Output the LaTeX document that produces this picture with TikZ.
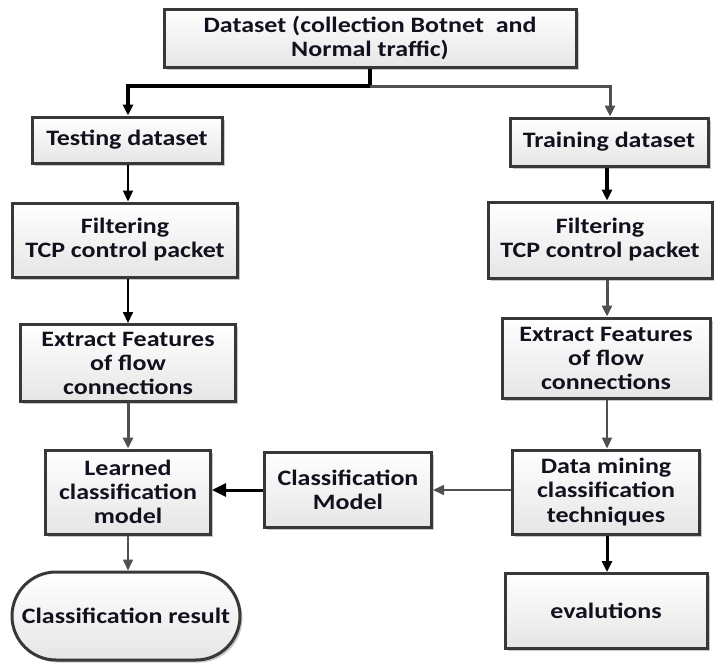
\documentclass[tikz,border=0pt]{standalone}
\usepackage{fontspec}
\setmainfont{Carlito}[FakeStretch=1.18]
\usetikzlibrary{shadows,arrows.meta,shapes.misc}
\definecolor{boxedge}{HTML}{383838}
\definecolor{txt}{HTML}{12121E}
\definecolor{lnk}{HTML}{505050}
\begin{document}
\begin{tikzpicture}[x=1pt,y=-1pt,
  box/.style={draw=boxedge, line width=3pt, top color=white, bottom color=gray!20,
    drop shadow={shadow xshift=2.5pt, shadow yshift=-2.5pt, fill=gray!55, opacity=0.8},
    align=center, text=txt, inner sep=0pt,
    font=\bfseries\fontsize{22}{24}\selectfont},
  pill/.style={box, rounded rectangle},
  tipk/.style={-{Triangle[length=11pt,width=10pt]}},
  blk/.style={tipk, draw=black, line width=#1},
  gry/.style={tipk, draw=lnk, line width=#1},
  ]
\useasboundingbox (0,0) rectangle (714,662);

% column axes for the vertical connectors
\coordinate (colL) at (128,0);
\coordinate (colR) at (607,0);
\coordinate (j) at (370,86);

% boxes
\node[box, minimum width=412pt, minimum height=58pt] (data) at (370,38)
  {Dataset (collection Botnet\ \ and\\Normal traffic)};
\node[box, minimum width=190pt, minimum height=46pt] (test) at (127,140) {Testing dataset};
\node[box, minimum width=198pt, minimum height=48pt] (train) at (609,142) {Training dataset};
\node[box, minimum width=225pt, minimum height=74pt] (filtL) at (125,240) {Filtering\\TCP control packet};
\node[box, minimum width=224pt, minimum height=76pt] (filtR) at (600,240) {Filtering\\TCP control packet};
\node[box, minimum width=215pt, minimum height=77pt] (extL) at (128,363) {Extract Features\\of flow\\connections};
\node[box, minimum width=208pt, minimum height=80pt] (extR) at (606,358) {Extract Features\\of flow\\connections};
\node[box, minimum width=165pt, minimum height=84pt] (learned) at (128,492) {Learned\\classification\\model};
\node[box, minimum width=167pt, minimum height=75pt] (cmodel) at (348,490) {Classification\\Model};
\node[box, minimum width=187pt, minimum height=84pt] (dmining) at (606,492) {Data mining\\classification\\techniques};
\node[pill, minimum width=228pt, minimum height=88pt] (result) at (126,616) {Classification result};
\node[box, minimum width=202pt, minimum height=75pt] (eval) at (606,611) {evalutions};

% split of the dataset
\draw[blk=3.5pt] (data.south -| j) -- (j) -| (test.north -| colL);
\draw[gry=3pt] (j) -| ([xshift=3pt]train.north -| colR);

% left column
\draw[blk=2pt] (test.south -| colL) -- (filtL.north -| colL);
\draw[blk=2pt] (filtL.south -| colL) -- (extL.north -| colL);
\draw[gry=3pt] (extL.south -| colL) -- (learned.north -| colL);
\draw[gry=1.5pt] (learned.south -| colL) -- (result.north -| colL);

% right column
\draw[blk=3.5pt] (train.south -| colR) -- (filtR.north -| colR);
\draw[gry=3pt] (filtR.south -| colR) -- (extR.north -| colR);
\draw[gry=2.2pt] (extR.south -| colR) -- (dmining.north -| colR);
\draw[blk=3pt] (dmining.south -| colR) -- (eval.north -| colR);

% model hand-over
\draw[gry=1.5pt] (dmining.west |- cmodel) -- (cmodel.east);
\draw[-{Triangle[length=14pt,width=13pt]}, line width=3pt] (cmodel.west) -- (learned.east |- cmodel);
\end{tikzpicture}
\end{document}
